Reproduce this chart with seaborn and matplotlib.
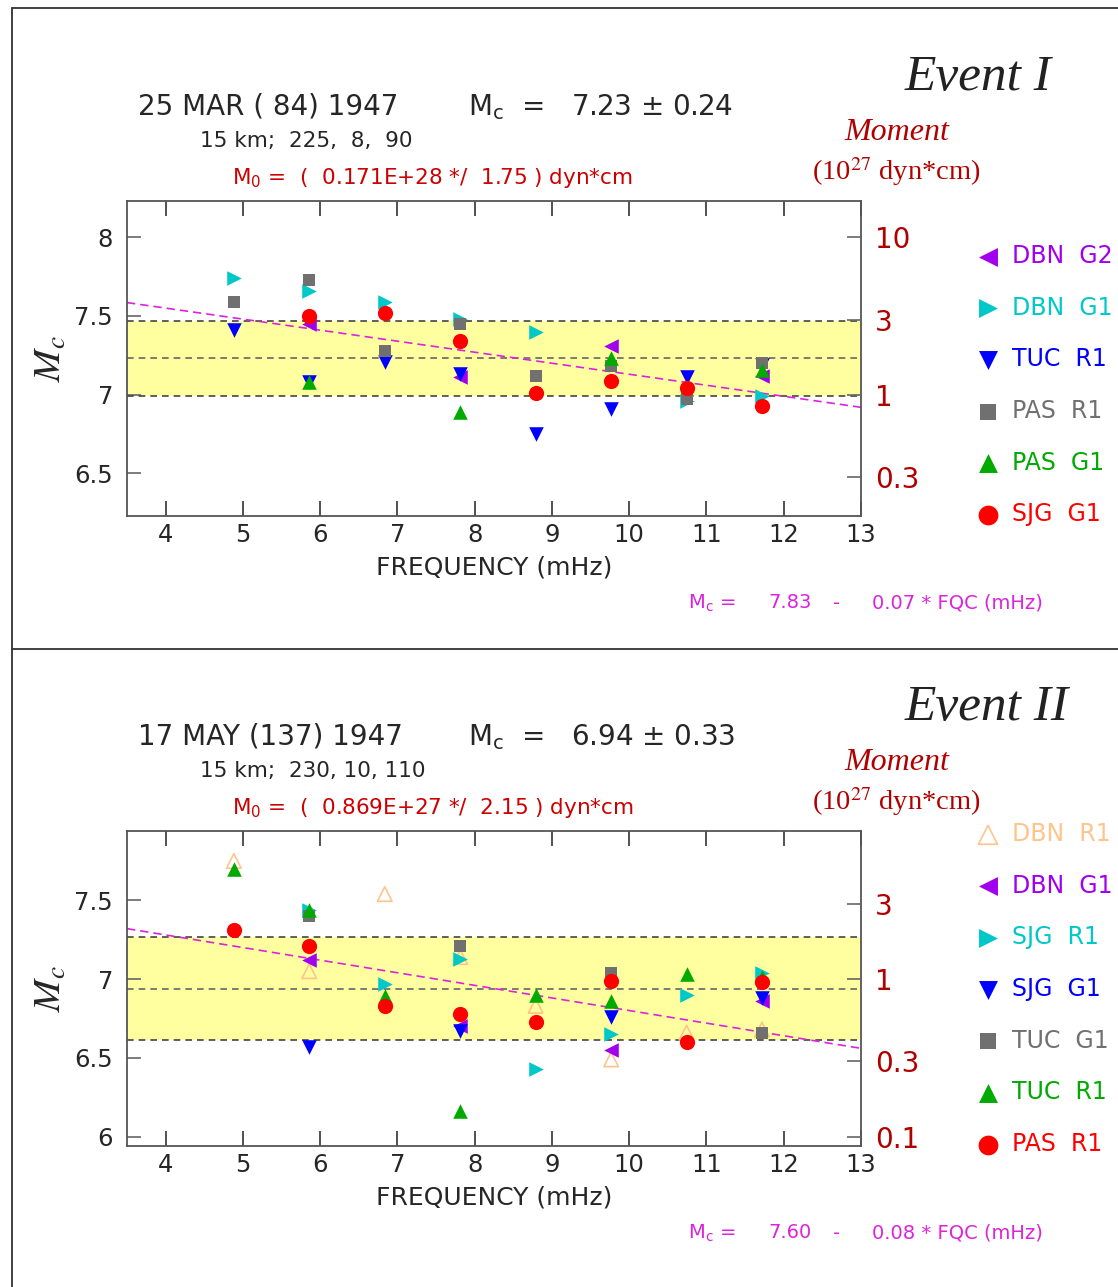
import numpy as np
import pandas as pd
import matplotlib
matplotlib.use("Agg")
import matplotlib.pyplot as plt
import seaborn as sns
from matplotlib.lines import Line2D

nan = np.nan

# ---- data -------------------------------------------------------------
freqs_mhz = [4.883, 5.859, 6.836, 7.813, 8.789, 9.766, 10.742, 11.719]
freq_ticks = [4, 5, 6, 7, 8, 9, 10, 11, 12, 13]

# Event I : 25 MAR 1947
ev1_labels = ["DBN  G2", "DBN  G1", "TUC  R1", "PAS  R1", "PAS  G1", "SJG  G1"]
ev1_dbn_g2 = [nan, 7.45, nan, 7.11, nan, 7.31, nan, 7.12]
ev1_dbn_g1 = [7.74, 7.66, 7.59, 7.48, 7.40, nan, 6.96, 6.99]
ev1_tuc_r1 = [7.41, 7.08, 7.21, 7.13, 6.75, 6.91, 7.11, 7.19]
ev1_pas_r1 = [7.59, 7.73, 7.28, 7.45, 7.12, 7.18, 6.97, 7.20]
ev1_pas_g1 = [nan, 7.08, nan, 6.89, nan, 7.23, nan, 7.16]
ev1_sjg_g1 = [nan, 7.50, 7.52, 7.34, 7.01, 7.09, 7.04, 6.93]
ev1_mc, ev1_sigma = 7.23, 0.24
ev1_fit = (7.83, 0.07)
ev1_left_ticks = [6.5, 7, 7.5, 8]
ev1_moment_ticks = [10, 3, 1, 0.3]
ev1_moment_labels = ["10", "3", "1", "0.3"]

# Event II : 17 MAY 1947
ev2_labels = ["DBN  R1", "DBN  G1", "SJG  R1", "SJG  G1", "TUC  G1", "TUC  R1", "PAS  R1"]
ev2_dbn_r1 = [7.75, 7.05, 7.54, 7.14, 6.83, 6.49, 6.66, 6.68]
ev2_dbn_g1 = [nan, 7.12, nan, 6.70, nan, 6.55, nan, 6.86]
ev2_sjg_r1 = [nan, 7.44, 6.97, 7.13, 6.43, 6.65, 6.90, 7.04]
ev2_sjg_g1 = [nan, 6.57, nan, 6.67, nan, 6.76, nan, 6.88]
ev2_tuc_g1 = [nan, 7.40, nan, 7.21, nan, 7.04, nan, 6.66]
ev2_tuc_r1 = [7.70, 7.44, 6.89, 6.16, 6.90, 6.86, 7.03, 7.01]
ev2_pas_r1 = [7.31, 7.21, 6.83, 6.78, 6.73, 6.99, 6.60, 6.98]
ev2_mc, ev2_sigma = 6.94, 0.33
ev2_fit = (7.60, 0.08)
ev2_left_ticks = [6, 6.5, 7, 7.5]
ev2_moment_ticks = [3, 1, 0.3, 0.1]
ev2_moment_labels = ["3", "1", "0.3", "0.1"]

# ---- styles -----------------------------------------------------------
PURPLE, CYAN, BLUE = "#A000EE", "#00C8C8", "#0000FF"
GRAY, GREEN, RED, PEACH = "#707070", "#00AA00", "#FF0000", "#FFC48C"
DARKRED, MAGENTA = "#B00000", "#DD22DD"

ev1_styles = [(PURPLE, "<", True), (CYAN, ">", True), (BLUE, "v", True),
              (GRAY, "s", True), (GREEN, "^", True), (RED, "o", True)]
ev2_styles = [(PEACH, "^", False), (PURPLE, "<", True), (CYAN, ">", True),
              (BLUE, "v", True), (GRAY, "s", True), (GREEN, "^", True), (RED, "o", True)]

sns.set_style("white")
plt.rcParams["font.family"] = ["DejaVu Sans"]

W, H = 1118, 1287
fig = plt.figure(figsize=(W / 100, H / 100), dpi=100)


def fx(px):
    return px / W


def fy(py):
    return 1 - py / H


def draw_panel(off, leg_top, title, date, mc, sigma, site, m0, fit, labels, series,
               styles, left_ticks, moment_ticks, moment_labels):
    ax = fig.add_axes([fx(127), fy(516 + off), fx(861) - fx(127), (516 - 201) / H])
    lo, hi = mc - 1.0, mc + 1.0
    ax.set_xlim(3.5, 13)
    ax.set_ylim(lo, hi)

    # uncertainty band and reference lines
    ax.axhspan(mc - sigma, mc + sigma, color="#FFFFA0", zorder=0, lw=0)
    for yv, col in [(mc + sigma, "#444444"), (mc, "#666666"), (mc - sigma, "#444444")]:
        ax.axhline(yv, color=col, ls=(0, (4, 3)), lw=1.2, zorder=1)

    # linear trend with frequency
    fline = np.array([3.5, 13.0])
    ax.plot(fline, fit[0] - fit[1] * fline, color=MAGENTA, ls=(0, (5, 3)), lw=1.2, zorder=2)

    handles = []
    for lab, vals, (col, mk, filled) in zip(labels, series, styles):
        df = pd.DataFrame({"freq": freqs_mhz, "mc": vals}).dropna()
        size = 70 if mk == "s" else (110 if mk != "o" else 120)
        if filled:
            sns.scatterplot(data=df, x="freq", y="mc", ax=ax, marker=mk, color=col,
                            s=size, linewidth=0, zorder=3, label=lab, legend=False)
        else:
            sns.scatterplot(data=df, x="freq", y="mc", ax=ax, marker=mk,
                            facecolor="none", edgecolor=col, s=size, linewidth=1.2,
                            zorder=3, label=lab, legend=False)
        handles.append(ax.collections[-1])

    ax.set_xticks(freq_ticks)
    ax.set_xticklabels([str(t) for t in freq_ticks])
    ax.set_yticks(left_ticks)
    ax.set_yticklabels([f"{t:g}" for t in left_ticks])
    ax.tick_params(axis="x", direction="in", length=11, width=1.2, color="#333333",
                   labelsize=17.5, pad=5, top=True, bottom=True)
    ax.tick_params(axis="y", direction="in", length=10, width=1.2, color="#666666",
                   labelsize=17.5, pad=10, left=True, right=False)
    for sp in ax.spines.values():
        sp.set_color("#555555")
        sp.set_linewidth(1.3)
    ax.set_xlabel("FREQUENCY (mHz)", fontsize=18, labelpad=6)
    ax.set_ylabel(r"$M_c$", fontsize=28, math_fontfamily="stix", labelpad=4)

    # moment scale on the right
    ax2 = ax.twinx()
    ax2.set_ylim(lo, hi)
    ax2.set_yticks(np.log10(moment_ticks) + 7)
    ax2.set_yticklabels(moment_labels)
    ax2.tick_params(axis="y", direction="in", length=10, width=1.2, color="#666666",
                    labelsize=20, labelcolor=DARKRED, pad=10)
    for sp in ax2.spines.values():
        sp.set_visible(False)
    ax2.grid(False)

    leg = ax.legend(handles, labels, loc="upper left",
                    bbox_to_anchor=(fx(975), fy(leg_top)), bbox_transform=fig.transFigure,
                    frameon=False, fontsize=17, borderpad=0, borderaxespad=0,
                    handlelength=1.1, handletextpad=0.45, labelspacing=1.17,
                    scatterpoints=1, markerscale=1.3)
    for txt, (col, _, _) in zip(leg.get_texts(), styles):
        txt.set_color(col)

    # header texts
    fig.text(fx(905), fy(78 + off), title, family="Liberation Serif", style="italic",
             fontsize=37, ha="left", va="center", color="#222222")
    fig.text(fx(138), fy(107 + off), date, fontsize=20, ha="left", va="center")
    fig.text(fx(468), fy(107 + off), r"M$_\mathrm{c}$  =   " + f"{mc:.2f} \u00b1 {sigma:.2f}",
             fontsize=20, ha="left", va="center")
    fig.text(fx(200), fy(141 + off), site, fontsize=15.5, ha="left", va="center")
    fig.text(fx(232), fy(178 + off), r"M$_\mathrm{0}$ =  " + m0, fontsize=15.5,
             ha="left", va="center", color="#CC0000")
    fig.text(fx(897), fy(132 + off), "Moment", family="Liberation Serif", style="italic",
             fontsize=23, ha="center", va="center", color=DARKRED)
    fig.text(fx(896), fy(172 + off), r"(10$^{27}$ dyn*cm)", family="Liberation Serif",
             math_fontfamily="stix", fontsize=20.5, ha="center", va="center", color=DARKRED)
    # fitted relation, laid out in columns
    fy_fit = fy(603 + off)
    fig.text(fx(688), fy_fit, r"M$_\mathrm{c}$ =", fontsize=14, ha="left", va="center",
             color=MAGENTA)
    fig.text(fx(768), fy_fit, f"{fit[0]:.2f}", fontsize=14, ha="left", va="center",
             color=MAGENTA)
    fig.text(fx(833), fy_fit, "-", fontsize=14, ha="left", va="center", color=MAGENTA)
    fig.text(fx(872), fy_fit, f"{fit[1]:.2f} * FQC (mHz)", fontsize=14, ha="left",
             va="center", color=MAGENTA)


draw_panel(0, 244, "Event I", "25 MAR ( 84) 1947", ev1_mc, ev1_sigma,
           "15 km;  225,  8,  90", "(  0.171E+28 */  1.75 ) dyn*cm", ev1_fit, ev1_labels,
           [ev1_dbn_g2, ev1_dbn_g1, ev1_tuc_r1, ev1_pas_r1, ev1_pas_g1, ev1_sjg_g1],
           ev1_styles, ev1_left_ticks, ev1_moment_ticks, ev1_moment_labels)

draw_panel(630, 822, "Event II", "17 MAY (137) 1947", ev2_mc, ev2_sigma,
           "15 km;  230, 10, 110", "(  0.869E+27 */  2.15 ) dyn*cm", ev2_fit, ev2_labels,
           [ev2_dbn_r1, ev2_dbn_g1, ev2_sjg_r1, ev2_sjg_g1, ev2_tuc_g1, ev2_tuc_r1, ev2_pas_r1],
           ev2_styles, ev2_left_ticks, ev2_moment_ticks, ev2_moment_labels)

# panel frames
frame = dict(color="#333333", lw=1.3, transform=fig.transFigure)
fig.add_artist(Line2D([fx(12), 1], [fy(8), fy(8)], **frame))
fig.add_artist(Line2D([fx(12), fx(12)], [fy(8), 0], **frame))
fig.add_artist(Line2D([fx(12), 1], [fy(649), fy(649)], **frame))

fig.savefig("out.png", dpi=100)
